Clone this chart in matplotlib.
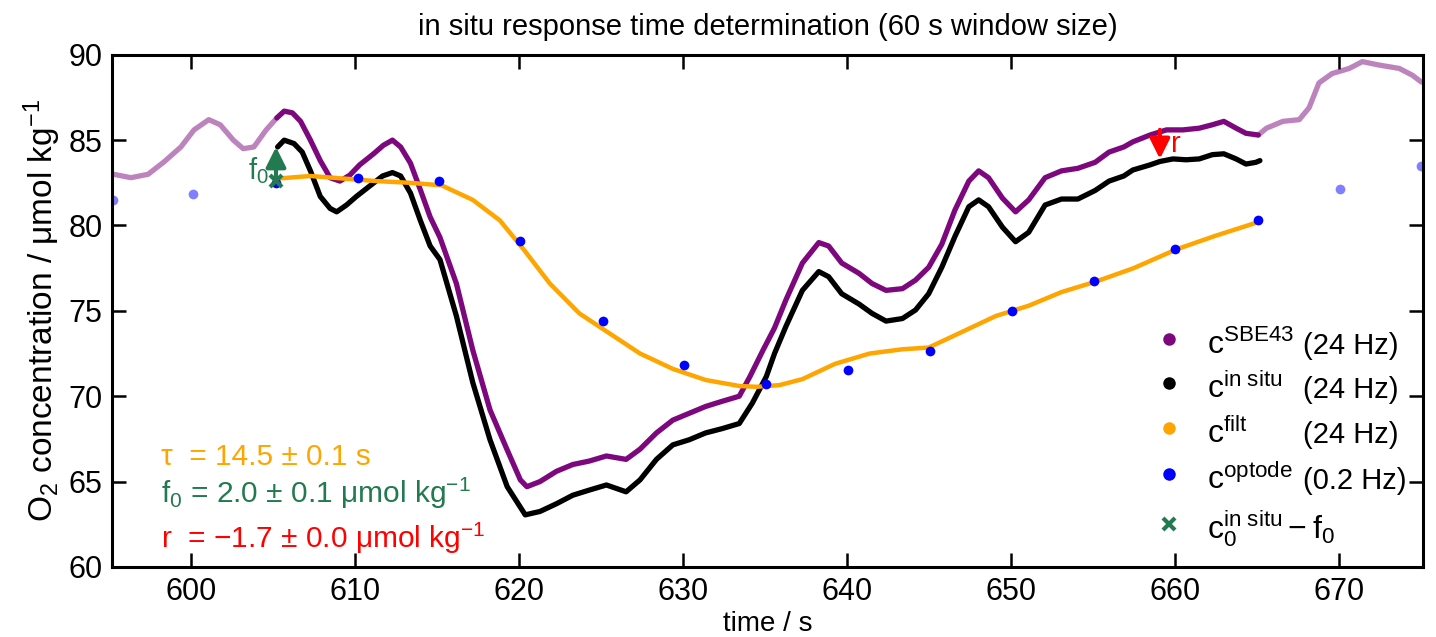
import numpy as np
import matplotlib
matplotlib.use("Agg")
import matplotlib.pyplot as plt

plt.rcParams['font.family'] = ['Liberation Sans', 'DejaVu Sans']
plt.rcParams['mathtext.fontset'] = 'custom'
plt.rcParams['mathtext.rm'] = 'Liberation Sans'
plt.rcParams['mathtext.it'] = 'Liberation Sans:italic'
plt.rcParams['mathtext.bf'] = 'Liberation Sans:bold'
plt.rcParams['mathtext.default'] = 'regular'

# SBE43 (24 Hz)
t_sbe = [595.3, 596.35, 597.4, 598.4, 599.4, 600.2, 601.1, 601.8, 602.6, 603.2,
         603.85, 604.6, 605.25, 605.7, 606.2, 606.7, 607.3, 607.9, 608.5, 609.1,
         609.7, 610.3, 611.15, 611.75, 612.3, 612.8, 613.4, 614.0, 614.6, 615.2,
         616.2, 617.2, 618.25, 619.3, 620.1, 620.5, 621.3, 622.3, 623.3, 624.3,
         625.35, 626.55, 627.4, 628.4, 629.4, 630.4, 631.4, 632.4, 633.45, 634.1,
         634.9, 635.6, 636.3, 637.3, 638.3, 638.9, 639.7, 640.75, 641.55, 642.4,
         643.4, 644.2, 645.0, 645.8, 646.6, 647.45, 648.05, 648.65, 649.5, 650.3,
         651.1, 652.1, 653.1, 654.1, 655.15, 656.0, 656.9, 657.45, 658.5, 659.5,
         660.5, 661.5, 662.3, 663.0, 663.75, 664.35, 665.1, 665.6, 666.6, 667.6,
         668.2, 668.8, 669.6, 670.65, 671.45, 672.45, 673.7, 674.5, 675.05]
c_sbe = [83.0, 82.8, 83.0, 83.75, 84.6, 85.6, 86.2, 85.9, 85.0, 84.5,
         84.6, 85.6, 86.3, 86.7, 86.6, 86.1, 85.0, 83.8, 82.8, 82.6,
         82.95, 83.55, 84.2, 84.7, 85.0, 84.6, 83.65, 82.1, 80.5, 79.3,
         76.6, 72.7, 69.2, 66.85, 65.1, 64.7, 65.0, 65.6, 66.0, 66.2,
         66.5, 66.3, 66.9, 67.85, 68.6, 69.0, 69.4, 69.7, 70.0, 71.15,
         72.7, 74.0, 75.65, 77.8, 79.0, 78.8, 77.8, 77.2, 76.6, 76.2,
         76.3, 76.8, 77.55, 78.9, 80.9, 82.6, 83.2, 82.8, 81.6, 80.8,
         81.5, 82.8, 83.2, 83.35, 83.7, 84.3, 84.6, 84.9, 85.3, 85.6,
         85.6, 85.7, 85.9, 86.1, 85.7, 85.4, 85.3, 85.7, 86.1, 86.2,
         86.9, 88.35, 88.9, 89.2, 89.6, 89.4, 89.2, 88.8, 88.4]

# in situ (24 Hz)
t_ins = [605.3, 605.7, 606.3, 606.8, 607.3, 607.9, 608.5, 608.9, 609.5, 610.1,
         610.9, 611.7, 612.3, 612.8, 613.4, 614.0, 614.6, 615.2, 616.2, 617.2,
         618.25, 619.3, 620.4, 621.3, 622.3, 623.3, 624.3, 625.35, 626.55, 627.4,
         628.4, 629.4, 630.4, 631.4, 632.4, 633.45, 634.25, 635.1, 635.6, 636.3,
         637.3, 638.3, 638.9, 639.7, 640.75, 641.55, 642.4, 643.4, 644.2, 645.0,
         645.8, 646.6, 647.45, 648.05, 648.65, 649.5, 650.3, 651.1, 652.1, 653.1,
         654.1, 655.15, 656.0, 656.9, 657.45, 658.5, 659.1, 659.9, 660.7, 661.5,
         662.3, 663.0, 663.75, 664.35, 664.95, 665.2]
c_ins = [84.6, 85.0, 84.8, 84.3, 83.2, 81.7, 81.0, 80.8, 81.2, 81.7,
         82.3, 82.9, 83.1, 82.9, 81.9, 80.3, 78.8, 78.0, 74.7, 70.8,
         67.45, 64.7, 63.05, 63.25, 63.7, 64.2, 64.5, 64.8, 64.4, 65.1,
         66.3, 67.15, 67.45, 67.85, 68.1, 68.4, 69.6, 71.15, 72.5, 74.1,
         76.2, 77.3, 77.0, 76.0, 75.4, 74.85, 74.4, 74.55, 75.05, 76.0,
         77.55, 79.35, 81.1, 81.5, 81.1, 79.9, 79.05, 79.6, 81.2, 81.55,
         81.55, 82.05, 82.6, 82.9, 83.25, 83.55, 83.75, 83.9, 83.85, 83.9,
         84.15, 84.2, 83.9, 83.6, 83.7, 83.8]

# filtered (24 Hz)
t_filt = [605.3, 607.3, 609.3, 611.35, 613.4, 615.3, 617.2, 618.85, 620.3, 621.9,
          623.7, 625.35, 627.4, 629.4, 631.4, 633.45, 634.5, 635.9, 637.3, 639.3,
          641.4, 643.4, 645.0, 647.0, 649.1, 651.1, 653.1, 655.15, 657.5, 660.1,
          662.5, 665.1]
c_filt = [82.75, 82.9, 82.75, 82.6, 82.5, 82.35, 81.5, 80.3, 78.6, 76.6,
          74.85, 73.8, 72.5, 71.6, 70.95, 70.6, 70.55, 70.65, 71.0, 71.9,
          72.5, 72.75, 72.85, 73.75, 74.7, 75.3, 76.1, 76.7, 77.5, 78.6,
          79.4, 80.2]

# optode (0.2 Hz)
t_opt = [595.25, 600.15, 605.2, 610.2, 615.15, 620.1, 625.15, 630.1, 635.1, 640.1,
         645.1, 650.1, 655.1, 660.05, 665.1, 670.1, 675.0]
c_opt = [81.5, 81.85, 82.5, 82.8, 82.6, 79.1, 74.4, 71.8, 70.7, 71.55,
         72.65, 75.0, 76.75, 78.6, 80.3, 82.15, 83.5]

win_start, win_end = 605.25, 665.1   # fitting window
t_f0, c_f0, f0 = 605.2, 82.6, 2.0
t_r, c_r_top, r = 659.1, 85.6, -1.7

purple = '#7d087d'
green = '#237a50'
orange = '#ffa500'

t_sbe = np.array(t_sbe); c_sbe = np.array(c_sbe)
t_opt = np.array(t_opt); c_opt = np.array(c_opt)

fig = plt.figure(figsize=(14.36, 6.37), dpi=100)
ax = fig.add_axes([0.078, 0.110, 0.913, 0.804])

pre = t_sbe <= win_start
post = t_sbe >= win_end - 0.01
mid = (t_sbe >= win_start) & (t_sbe <= win_end)
ax.plot(t_sbe[pre], c_sbe[pre], color=purple, alpha=0.5, lw=3.8, solid_capstyle='round')
ax.plot(t_sbe[post], c_sbe[post], color=purple, alpha=0.5, lw=3.8, solid_capstyle='round')
ax.plot(t_sbe[mid], c_sbe[mid], color=purple, lw=3.8, solid_capstyle='round')
ax.plot(t_ins, c_ins, color='black', lw=3.8, solid_capstyle='round')
ax.plot(t_filt, c_filt, color=orange, lw=3.2)

inwin = (t_opt >= win_start - 0.1) & (t_opt <= win_end + 0.1)
ax.plot(t_opt[~inwin], c_opt[~inwin], 'o', color='blue', alpha=0.5, ms=7, mec='none')
ax.plot(t_opt[inwin], c_opt[inwin], 'o', color='blue', ms=7, mec='none')

# f0 and r arrows
ax.annotate('', xy=(t_f0, c_f0 + f0), xytext=(t_f0, c_f0),
            arrowprops=dict(arrowstyle='-|>', color=green, lw=3, mutation_scale=30,
                            shrinkA=0, shrinkB=0))
ax.plot([t_f0], [c_f0], 'x', color=green, ms=9, mew=3)
ax.text(t_f0 - 0.45, c_f0 + 0.6, 'f$_0$', color=green, fontsize=21, ha='right', va='center')
ax.annotate('', xy=(t_r, c_r_top + r), xytext=(t_r, c_r_top),
            arrowprops=dict(arrowstyle='-|>', color='red', lw=3, mutation_scale=30,
                            shrinkA=0, shrinkB=0))
ax.text(t_r + 0.7, c_r_top - 0.8, 'r', color='red', fontsize=21, ha='left', va='center')

ax.set_xlim(595.2, 675.15)
ax.set_ylim(60, 90)
ax.set_xticks(np.arange(600, 671, 10))
ax.set_yticks(np.arange(60, 91, 5))
ax.tick_params(direction='in', length=10, width=1.8, labelsize=22, pad=7,
               top=True, right=True)
for s in ax.spines.values():
    s.set_linewidth(2.2)

ax.set_title('in situ response time determination (60 s window size)', fontsize=21, pad=14)
ax.set_xlabel('time / s', fontsize=20, labelpad=3)
ax.set_ylabel('O$_2$ concentration / μmol kg$^{-1}$', fontsize=24, labelpad=4)

# result texts
ax.text(0.037, 0.199, 'τ  = 14.5 ± 0.1 s', color=orange, fontsize=21.5,
        transform=ax.transAxes, va='baseline')
ax.text(0.037, 0.125, 'f$_0$ = 2.0 ± 0.1 μmol kg$^{-1}$', color=green, fontsize=21.5,
        transform=ax.transAxes, va='baseline')
ax.text(0.037, 0.037, 'r  = −1.7 ± 0.0 μmol kg$^{-1}$', color='red', fontsize=21.5,
        transform=ax.transAxes, va='baseline')

# legend drawn by hand so the rates line up in a column
leg_names = ['$c^{SBE43}$', '$c^{in\\ situ}$', '$c^{filt}$', '$c^{optode}$',
             '$c_0^{in\\ situ} - f_0$']
leg_rates = ['(24 Hz)', '(24 Hz)', '(24 Hz)', '(0.2 Hz)', '']
leg_colors = [purple, 'black', orange, 'blue', green]
leg_marks = ['o', 'o', 'o', 'o', 'x']
leg_y = [0.445, 0.359, 0.271, 0.182, 0.084]
for name, rate, col, mk, y in zip(leg_names, leg_rates, leg_colors, leg_marks, leg_y):
    if mk == 'o':
        ax.plot([0.806], [y], 'o', color=col, ms=9, mec='none', transform=ax.transAxes,
                clip_on=False)
    else:
        ax.plot([0.806], [y], 'x', color=col, ms=9, mew=3, transform=ax.transAxes,
                clip_on=False)
    ax.text(0.835, y - 0.029, name, fontsize=23, transform=ax.transAxes, va='baseline')
    if rate:
        ax.text(0.9085, y - 0.029, rate, fontsize=21, transform=ax.transAxes, va='baseline')

fig.savefig('out.png', dpi=100)
